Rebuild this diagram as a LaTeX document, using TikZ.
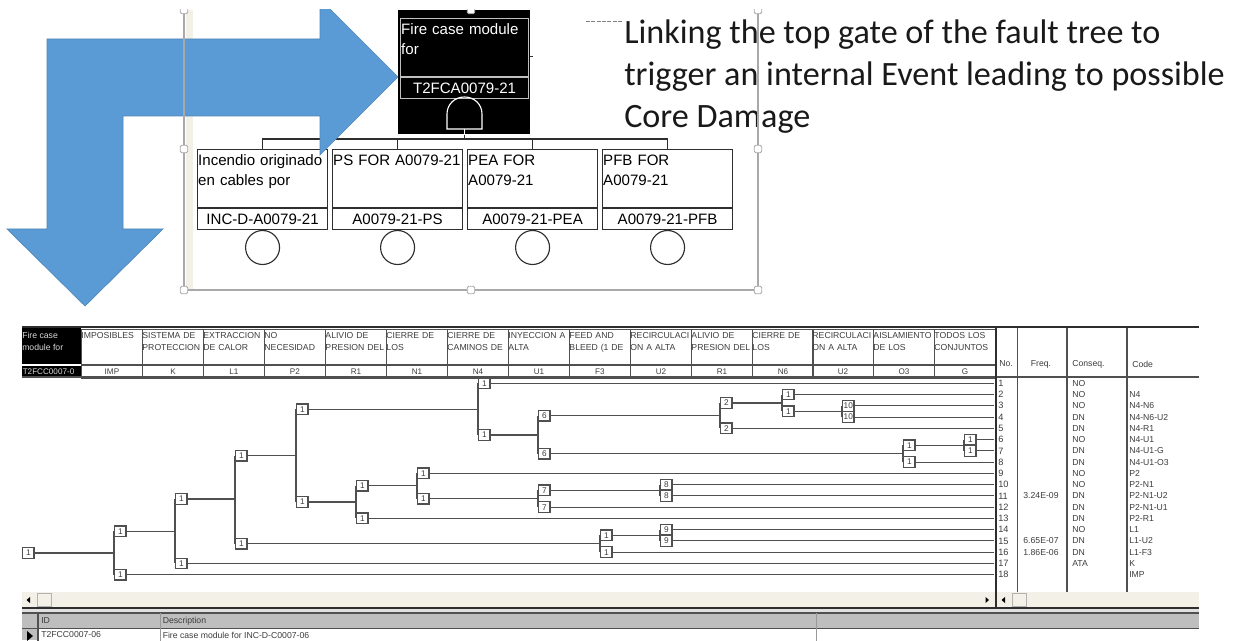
\documentclass[tikz,border=0pt]{standalone}
\usepackage{fontspec}
\setmainfont{Liberation Sans}
\newfontfamily\carlfont{Carlito}
\usetikzlibrary{arrows.meta,positioning}
\definecolor{arrowblue}{HTML}{5B9BD5}
\definecolor{arrowedge}{HTML}{4F86B8}
\definecolor{framec}{HTML}{A9A9A9}
\definecolor{creamc}{HTML}{F3F1E7}
\definecolor{linek}{HTML}{2E2E2E}
\definecolor{tablec}{HTML}{505050}
\definecolor{inkt}{HTML}{3C3C3C}
\definecolor{barc}{HTML}{BEBEBE}
\tikzset{
  evbox/.style={rectangle, draw=linek, line width=0.85pt, fill=white, anchor=north west, align=left,
                minimum width=97.5pt, minimum height=43.5pt, text width=96.5pt, inner xsep=0.5pt, inner ysep=0pt,
                font=\fontsize{11.3}{15}\selectfont, text depth=31.5pt, text height=12pt},
  evid/.style={rectangle, draw=linek, line width=0.85pt, fill=white, minimum width=97.5pt, minimum height=15.5pt,
               inner sep=0pt, font=\fontsize{11.3}{15}\selectfont},
  basic/.style={circle, draw=linek, line width=0.85pt, minimum size=25.5pt, inner sep=0pt},
  conn/.style={line width=0.85pt, draw=linek},
  handle/.style={rectangle, rounded corners=1pt, draw=framec, fill=white, line width=0.6pt, minimum size=5.5pt, inner sep=0pt},
  hcell/.style={rectangle, draw=tablec, line width=0.7pt, anchor=north west, align=left, minimum width=45.75pt,
                minimum height=26.5pt, text width=45.75pt, inner xsep=0pt, inner ysep=0pt, text height=6.75pt, text depth=19.75pt,
                text=inkt, font=\fontsize{6.5}{9.2}\selectfont},
  hcode/.style={rectangle, draw=tablec, line width=0.7pt, minimum width=45.75pt, minimum height=9.5pt, inner sep=0pt,
                text=inkt, font=\fontsize{6.1}{7}\selectfont},
  tnode/.style={rectangle, draw=tablec, line width=0.85pt, fill=white, anchor=west, minimum width=8.6pt, minimum height=8pt,
                inner sep=0pt, text=inkt, font=\fontsize{6.2}{7}\selectfont},
  tl/.style={line width=0.85pt, draw=tablec},
  rowno/.style={anchor=west, inner xsep=3pt, inner ysep=0pt, text=inkt, font=\fontsize{6.9}{8}\selectfont},
  rowtxt/.style={anchor=west, inner sep=0pt, text=inkt, font=\fontsize{6.5}{8}\selectfont},
  grid/.style={line width=0.85pt, draw=tablec},
  btxt/.style={anchor=west, inner sep=0pt, text=inkt, font=\fontsize{6.5}{8}\selectfont},
}

\begin{document}
\begin{tikzpicture}[x=0.75pt,y=-0.75pt]
  \useasboundingbox (0,0) rectangle (1236,641);
  \node[anchor=north west, inner sep=0pt, align=left, font=\carlfont\fontsize{25.6}{31.5}\selectfont, text=black!90] (title) at (624,20)
    {Linking the top gate of the fault tree to\\trigger an internal Event leading to possible\\Core Damage};
  \begin{scope}
    \clip (0,10) rectangle (1236,641);
    \fill[creamc] (186,10) rectangle (193,290);
    % top gate
    \node[rectangle, fill=black, anchor=north west, minimum width=99pt, minimum height=93pt, inner sep=0pt] (blk) at (398,10) {};
    \node[evbox, draw=white!75!black, fill=black, text=white, minimum width=96pt, text width=95pt, minimum height=43.5pt] (top) at (400,18) {Fire case module\\for};
    \node[evid, draw=white!75!black, fill=black, text=white, minimum width=96pt, below=0pt of top] (topid) {T2FCA0079-21};
    \draw[white, line width=0.85pt] (447,129) -- (447,114) .. controls (447,104) and (455,97) .. (464.5,97)
      .. controls (474,97) and (482,104) .. (482,114) -- (482,129) -- cycle;
    \coordinate (gb) at (464.5,129);
    \coordinate (bus) at (464.5,139);
    \draw[white, line width=0.85pt] (gb) -- (blk.south -| gb);
    % events under the gate
    \node[evbox] (e1) at (197,149) {Incendio originado\\en cables por};
    \node[evbox] (e2) at (332,149) {\mbox{PS FOR A0079-21}};
    \node[evbox] (e3) at (467,149) {PEA FOR\\A0079-21};
    \node[evbox] (e4) at (602,149) {PFB FOR\\A0079-21};
    \foreach \e/\id in {e1/INC-D-A0079-21,e2/A0079-21-PS,e3/A0079-21-PEA,e4/A0079-21-PFB}{
      \node[evid, below=0pt of \e] (\e id) {\id};
      \node[basic, below=0pt of \e id] (\e c) {};
      \draw[conn] (bus) -| (\e.north);
    }
    \draw[conn] (blk.south -| gb) -- (bus);
    % big arrow
    \draw[fill=arrowblue, draw=arrowedge, line width=0.5pt] (47,39) -- (320,39) -- (320,-1) -- (398,77) -- (320,155)
      -- (320,116) -- (123,116) -- (123,229) -- (163,229) -- (85,306) -- (7,229) -- (47,229) -- cycle;
    % selection frame
    \draw[framec, line width=0.8pt] (184,10) -- (184,290) -- (758,290) -- (758,10);
    \foreach \hn/\hx/\hy in {ha/184/10,hb/471/10,hc/758/10,hd/184/149,he/758/149,hf/184/290,hg/471/290,hh/758/290}{
      \node[handle] (\hn) at (\hx,\hy) {};
    }
  \end{scope}
  \draw[gray, line width=0.4pt, dash pattern=on 3pt off 1pt] (586,21) -- (622,21);
  \draw[linek, line width=0.6pt] (530,56) -- (533,56);

  % table head
  \fill[black] (22,328) rectangle (81,364);
  \fill[black] (22,366.5) rectangle (81,377);
  \node[anchor=north west, inner sep=0pt, align=left, text=white!85!black, font=\fontsize{6.5}{9.2}\selectfont] (fc) at (22,332) {Fire case\\module for};
  \node[anchor=west, inner sep=0pt, text=white!85!black, font=\fontsize{6.1}{7}\selectfont] (fcid) at (22.5,371.5) {T2FCC0007-0};
  \foreach \x/\htxt/\hcd [count=\i] in {81/IMPOSIBLES/IMP,142/{SISTEMA DE\\PROTECCION}/K,203/{EXTRACCION\\DE CALOR}/L1,
      264/{NO\\NECESIDAD}/P2,325/{ALIVIO DE\\PRESION DEL}/R1,386/{CIERRE DE\\LOS}/N1,447/{CIERRE DE\\CAMINOS DE}/N4,
      508/{INYECCION A\\ALTA}/U1,569/{FEED AND\\BLEED (1 DE}/F3,630/{RECIRCULACI\\ON A ALTA}/U2,691/{ALIVIO DE\\PRESION DEL}/R1,
      752/{CIERRE DE\\LOS}/N6,812/{RECIRCULACI\\ON A ALTA}/U2,873/{AISLAMIENTO\\DE LOS}/O3,934/{TODOS LOS\\CONJUNTOS}/G}{
    \node[hcell] (h\i) at (\x,329) {\htxt};
    \node[hcode, below=0pt of h\i] (c\i) {\hcd};
  }
  \draw[linek, line width=1pt] (22,327) -- (1199,327);
  \draw[grid, line width=1pt] (22,377) -- (1199,377);
  \foreach \x in {1017.5,1067,1127}{ \draw[grid] (\x,328) -- (\x,592); }
  \node[rowtxt, anchor=center] (nohd) at (1006,364) {No.};
  \node[rowtxt, anchor=center] (frhd) at (1041,364) {Freq.};
  \node[rowtxt] (cqhd) at (1072,364) {Conseq.};
  \node[rowtxt] (cdhd) at (1132,364) {Code};

  % rows
  \foreach \n/\ry/\cq/\cd in {1/383.3/NO/,2/394.6/NO/N4,3/405.8/NO/N4-N6,4/417.1/DN/N4-N6-U2,5/428.3/DN/N4-R1,
      6/439.6/NO/N4-U1,7/450.9/DN/N4-U1-G,8/462.1/DN/N4-U1-O3,9/473.4/NO/P2,10/484.6/NO/P2-N1,11/495.9/DN/P2-N1-U2,
      12/507.2/DN/P2-N1-U1,13/518.4/DN/P2-R1,14/529.7/NO/L1,15/540.9/DN/L1-U2,16/552.2/DN/L1-F3,17/563.5/ATA/K,18/574.7//IMP}{
    \node[rowno] (no\n) at (994,\ry) {\n};
    \node[rowtxt] (cq\n) at (1072,\ry) {\cq};
    \node[rowtxt] (cd\n) at (1129,\ry) {\cd};
  }
  \node[rowtxt, anchor=center] (fr11) at (1041,495.9) {3.24E-09};
  \node[rowtxt, anchor=center] (fr15) at (1041,540.9) {6.65E-07};
  \node[rowtxt, anchor=center] (fr16) at (1041,552.2) {1.86E-06};

  % event tree
  \foreach \tn/\x/\y/\v in {t0/22/553/1,a1/114/531.3/1,a2/114/574.7/1,b1/175/499/1,b2/175/563.5/1,c1/235/455.7/1,c2/235/543.7/1,
      d1/296/409.3/1,d2/296/502/1,f1/478/383.3/1,f2/478/435/1,g1/538/415.7/6,g2/538/453.7/6,h1/720/403/2,h2/720/428.3/2,
      i1/782/394.6/1,i2/782/411.3/1,j1/842/405.8/10,j2/842/417.1/10,k1/903/445.3/1,k2/903/462.1/1,l1/964/439.6/1,l2/964/450.9/1,
      m1/356/485.7/1,m2/356/518.4/1,n1/417/473.4/1,n2/417/498.7/1,o1/538/490.3/7,o2/538/507.2/7,p1/660/484.6/8,p2/660/495.9/8,
      q1/600/535.3/1,q2/600/552.2/1,r1/660/529.7/9,r2/660/540.9/9}{
    \node[tnode] (\tn) at (\x,\y) {\v};
  }
  \foreach \p/\c in {t0/a,a1/b,b1/c,c1/d,c2/q,d1/f,d2/m,f2/g,g1/h,g2/k,h1/i,i2/j,k1/l,m1/n,n2/o,o1/p,q1/r}{
    \draw[tl] (\p.east) -- (\p.east -| \c1.west);
    \draw[tl] (\c1.west) -- (\c2.west);
  }
  \foreach \p/\n in {f1/1,i1/2,j1/3,j2/4,h2/5,l1/6,l2/7,k2/8,n1/9,p1/10,p2/11,o2/12,m2/13,r1/14,r2/15,q2/16,b2/17,a2/18}{
    \draw[tl] (\p.east) -- (no\n.west);
  }

  % scroll bar
  \fill[creamc] (22,592) rectangle (1199,607);
  \draw[white!70!black, line width=0.5pt] (37,593) rectangle (51,606);
  \draw[white!70!black, line width=0.5pt] (1012,593) rectangle (1026,606);
  \fill[black] (26.5,600) -- (30,597) -- (30,603) -- cycle;
  \fill[black] (989,600) -- (985.5,597) -- (985.5,603) -- cycle;
  \fill[black] (1001.5,600) -- (1005,597) -- (1005,603) -- cycle;
  \draw[linek, line width=1pt] (996,327) -- (996,607);

  % lower grid
  \fill[white!88!black] (22,608) rectangle (1199,613);
  \fill[barc] (22,613) rectangle (1199,628);
  \fill[barc] (22,628) rectangle (38,640);
  \draw[linek, line width=1.1pt] (22,608) -- (1199,608);
  \draw[tablec, line width=0.8pt] (22,613) -- (1199,613);
  \draw[tablec, line width=0.8pt] (22,628.5) -- (1199,628.5);
  \draw[grid] (38,613) -- (38,641);
  \draw[white!60!black, line width=0.5pt] (160,613) -- (160,641);
  \draw[white!60!black, line width=0.5pt] (816,613) -- (816,641);
  \fill[black] (27,631) -- (33,636) -- (27,641) -- cycle;
  \node[btxt] (idhd) at (41,621) {ID};
  \node[btxt] (dshd) at (162.5,621) {Description};
  \node[btxt] (idv) at (41,635) {T2FCC0007-06};
  \node[btxt] (dsv) at (162.5,635) {Fire case module for INC-D-C0007-06};
\end{tikzpicture}
\end{document}
